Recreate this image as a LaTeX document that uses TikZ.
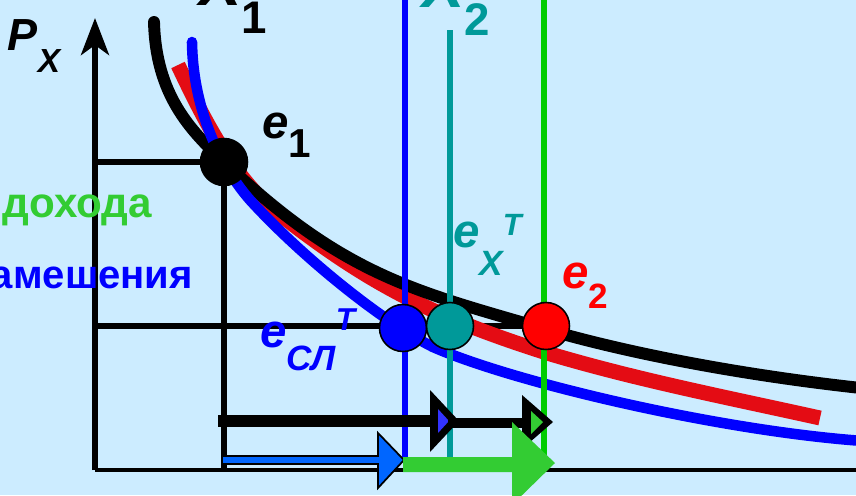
\documentclass[tikz,border=0pt]{standalone}
\usepackage{fontspec}
\setmainfont{Liberation Sans}
\usetikzlibrary{arrows.meta}
\usetikzlibrary{positioning}
\definecolor{bg}{RGB}{204,236,255}
\definecolor{curvered}{RGB}{228,12,20}
\definecolor{tealx}{RGB}{0,153,153}
\definecolor{greenv}{RGB}{0,204,0}
\definecolor{greenfx}{RGB}{51,204,51}
\definecolor{blueheadA}{RGB}{0,102,255}
\definecolor{blueheadB}{RGB}{51,51,255}
\tikzstyle{axis}=[draw=black, line width=3.2pt]
\tikzstyle{guide}=[draw=black, line width=2.9pt]
\tikzstyle{vline}=[line width=3.2pt]
\tikzstyle{dot}=[circle, draw=black, line width=0.9pt, minimum size=0.94cm, inner sep=0pt]
\tikzstyle{lbl}=[inner sep=0pt, outer sep=0pt, anchor=base west, font=\bfseries]
\newcommand{\fs}[1]{\fontsize{#1}{#1}\selectfont}

\begin{document}
\begin{tikzpicture}[x=0.02cm, y=-0.02cm]

    \useasboundingbox (0,0) rectangle (856,495);
    \clip (0,0) rectangle (856,495);
    \fill[bg] (0,0) rectangle (856,495);

    \coordinate (O) at (95,470);
    \coordinate (ytop) at (95,18);
    \coordinate (xend) at (880,470);
    \coordinate (E1) at (224,162);
    \coordinate (Esl) at (403,328);
    \coordinate (Ex) at (450,326);
    \coordinate (E2) at (546,326);

    % guides
    \draw[guide] (O |- E1) -- (E1);
    \draw[guide] (E1) -- (E1 |- O);
    \draw[guide] (O |- E2) -- (E2);

    % axes
    \draw[axis, -{Stealth[length=0.74cm, width=0.56cm, inset=0.2cm]}] (O) -- (ytop);
    \draw[axis, line width=2.8pt] (O) -- (xend);

    % curves
    \draw[curvered, line width=8.5pt, line cap=butt] (178,65) .. controls (198,107) and (227,168) .. (267,204)
        .. controls (367,285) and (437,318) .. (547,353)
        .. controls (637,380) and (730,398) .. (820,418);
    \draw[black, line width=6.8pt, line cap=round] (154,22) .. controls (156,95) and (190,130) .. (E1)
        .. controls (344,276) and (415,291) .. (545,329)
        .. controls (645,358) and (770,379) .. (880,390);
    \draw[blue, line width=6pt, line cap=round] (192,42) .. controls (193,112) and (222,168) .. (250,200)
        .. controls (303,258) and (383,322) .. (433,347)
        .. controls (520,385) and (740,435) .. (880,442);

    % verticals
    \draw[vline, blue] (405,0) -- (405,457);
    \draw[vline, tealx] (450,30) -- (450,457);
    \draw[vline, greenv] (544,0) -- (544,465);

    % effect arrows
    \fill[black] (218,415) rectangle (436,427);
    \fill[black] (430,390) -- (459,421) -- (430,452) -- cycle;
    \fill[blueheadB] (438,409) -- (449,421) -- (438,433) -- cycle;
    \fill[black] (448,418) rectangle (526,428);
    \fill[black] (522,395) -- (553,422) -- (522,449) -- cycle;
    \fill[greenfx] (531,411) -- (543,422) -- (531,434) -- cycle;

    \filldraw[fill=blueheadA, draw=black, line width=1pt] (222,456) -- (378,456) -- (378,433) -- (404,460) -- (378,488) -- (378,464) -- (222,464) -- cycle;
    \fill[greenfx] (403,457) -- (512,457) -- (512,422) -- (555,463) -- (512,505) -- (512,472) -- (403,472) -- cycle;

    % points
    \node[dot, fill=black] (e1) at (E1) {};
    \node[dot, fill=blue] (esl) at (Esl) {};
    \node[dot, fill=tealx] (ex) at (Ex) {};
    \node[dot, fill=red] (e2) at (E2) {};

    % labels
    \node[lbl] (px) at (8,50) {\fs{25.6}\itshape P\raisebox{-0.44cm}{\fs{19}X}};
    \node[lbl] (x1) at (199,5) {\fs{36}\itshape X\raisebox{-0.56cm}{\fs{26}\upshape 1}};
    \node[lbl, text=tealx] (x2) at (422,7) {\fs{36}\itshape X\raisebox{-0.56cm}{\fs{26}\upshape 2}};
    \node[lbl] (le1) at (262,138) {\fs{27}\itshape e\raisebox{-0.38cm}{\fs{23}\upshape 1}};
    \node[lbl, text=tealx] (lex) at (453,247) {\fs{27}\itshape e\raisebox{-0.56cm}{\fs{20}X}\raisebox{0.24cm}{\fs{17.5}T}};
    \node[lbl, text=red] (le2) at (562,288) {\fs{27}\itshape e\raisebox{-0.4cm}{\fs{20}\upshape 2}};
    \node[lbl, text=blue] (lesl) at (260,347) {\fs{27}\itshape e\raisebox{-0.46cm}{\fs{20}СЛ}\raisebox{0.34cm}{\fs{18}T}};
    \node[lbl, text=greenfx, anchor=base east] (income) at (152,217) {\fs{24}дохода};
    \node[lbl, text=blue, anchor=base east] (subst) at (193,288) {\fs{22.8}замешения};

\end{tikzpicture}
\end{document}
